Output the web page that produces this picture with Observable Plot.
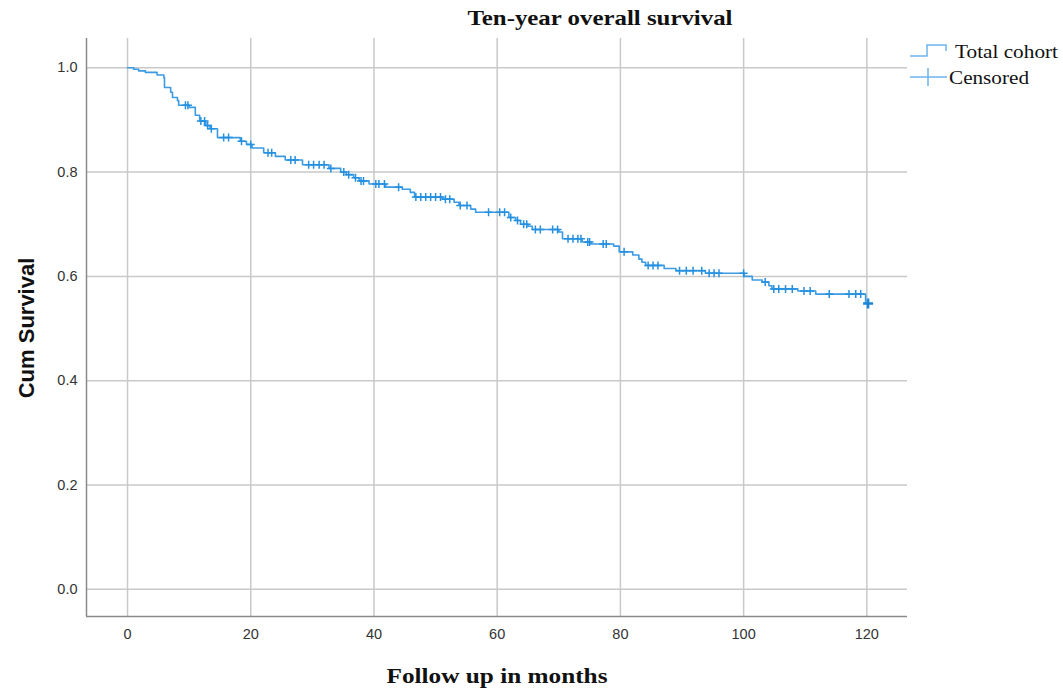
<!DOCTYPE html>
<html><head><meta charset="utf-8">
<script src="https://cdn.jsdelivr.net/npm/d3@7"></script>
<script src="https://cdn.jsdelivr.net/npm/@observablehq/plot@0.6"></script>
<style>body{margin:0;background:#fff;} #chart{width:1063px;height:694px;}</style>
</head><body><div id="chart"></div>
<script>
// Kaplan–Meier steps: event times (months) and cumulative survival after each event
const eventTimes = [0,1.0,1.8,2.9,4.8,5.9,6.0,7.0,7.3,8.1,8.3,10.0,11.0,11.7,12.7,13.4,14.6,18.3,19.3,20.2,22.1,24.0,25.6,28.4,32.7,34.6,35.5,36.7,37.6,39.2,41.9,44.6,45.9,46.6,51.1,53.0,53.8,55.7,56.5,61.9,63.0,63.8,65.0,65.7,70.0,70.6,73.8,75.2,78.9,79.8,82.0,83.0,83.5,84.1,87.1,89.0,93.8,100.1,101.4,103.0,104.1,104.6,108.8,111.7,119.8];
const eventSurv  = [1.0,0.997,0.994,0.991,0.986,0.981,0.962,0.953,0.943,0.937,0.928,0.924,0.909,0.898,0.889,0.883,0.866,0.859,0.853,0.846,0.837,0.830,0.823,0.814,0.807,0.800,0.795,0.789,0.783,0.777,0.771,0.767,0.761,0.752,0.748,0.742,0.736,0.729,0.723,0.713,0.707,0.700,0.696,0.690,0.685,0.672,0.666,0.662,0.658,0.647,0.641,0.633,0.627,0.621,0.615,0.611,0.606,0.600,0.593,0.589,0.582,0.576,0.572,0.566,0.548];
// censored observation times (months)
const censorTimes = [9.4,9.8,11.9,12.5,13.0,13.6,15.6,16.4,18.5,20.0,22.8,23.4,26.5,27.2,29.4,30.2,31.1,31.9,33.0,35.1,35.9,37.0,37.9,38.3,40.3,40.8,41.7,44.0,46.8,47.6,48.4,49.2,50.0,50.8,51.6,52.3,54.0,55.1,58.6,60.4,61.2,62.2,63.3,64.3,64.8,66.2,67.0,69.0,69.8,71.5,72.3,73.1,73.6,74.7,75.0,77.2,77.7,80.6,84.5,85.3,86.1,89.6,90.7,91.8,93.2,94.4,95.2,96.0,100.0,103.5,104.9,105.7,106.8,107.9,109.8,110.8,113.9,117.1,118.2,119.0];
const lastFollowUp = 120.2;
const xTicks = [0,20,40,60,80,100,120];
const yTicks = [0,0.2,0.4,0.6,0.8,1.0];
const xDomain = [-6.66,126.6];
const yDomain = [-0.052,1.056];

const survAt = t => { let s = 1; for (let i=0;i<eventTimes.length;i++){ if (eventTimes[i] <= t) s = eventSurv[i]; } return s; };
const steps = eventTimes.map((t,i)=>({t, s:eventSurv[i]}));
steps.push({t:lastFollowUp, s:survAt(lastFollowUp)});
const censored = censorTimes.map(t=>({t, s:survAt(t)}));
const finalCensor = [{t:lastFollowUp, s:survAt(lastFollowUp)}];

const plus = {draw(ctx, size){ const r = Math.sqrt(size/Math.PI); ctx.moveTo(0,-r); ctx.lineTo(0,r); ctx.moveTo(-r,0); ctx.lineTo(r,0); }};
const blue = "#3a9be4";

const chart = Plot.plot({
  width:1063, height:694,
  marginLeft:86, marginRight:156, marginTop:38, marginBottom:78,
  x:{domain:xDomain, label:null},
  y:{domain:yDomain, label:null},
  style:{fontFamily:"'Liberation Sans', Arial, sans-serif", fontSize:"14.5px", color:"#333", background:"#fff"},
  marks:[
    Plot.gridX(xTicks,{stroke:"#c9c9c9", strokeOpacity:1, strokeWidth:1.5}),
    Plot.gridY(yTicks,{stroke:"#c9c9c9", strokeOpacity:1, strokeWidth:1.5}),
    Plot.ruleX([xDomain[0]],{stroke:"#8a8a8a", strokeWidth:1.5}),
    Plot.ruleY([yDomain[0]],{stroke:"#8a8a8a", strokeWidth:1.5}),
    Plot.axisX(xTicks,{tickSize:0, tickPadding:12, tickFormat:d=>String(d), label:null, fill:"#333"}),
    Plot.axisY(yTicks,{tickSize:0, tickPadding:9, tickFormat:d=>d.toFixed(1), label:null, fill:"#333"}),
    Plot.line(steps,{x:"t", y:"s", curve:"step-after", stroke:blue, strokeWidth:1.6}),
    Plot.dot(censored,{x:"t", y:"s", symbol:plus, r:4, stroke:"#2590e0", strokeWidth:1.5, fill:"none"}),
    Plot.dot(finalCensor,{x:"t", y:"s", symbol:plus, r:5, stroke:"#1a86d8", strokeWidth:2.6, fill:"none"})
  ]
});
document.getElementById("chart").append(chart);

const svg = d3.select(chart);
const serif = "'Liberation Serif', 'Times New Roman', serif";
svg.append("text").attr("x",600).attr("y",25).attr("text-anchor","middle")
  .attr("font-family",serif).attr("font-weight","bold").attr("font-size",21)
  .attr("textLength",265).attr("lengthAdjust","spacingAndGlyphs").attr("fill","#111").text("Ten-year overall survival");
svg.append("text").attr("x",497).attr("y",683).attr("text-anchor","middle")
  .attr("font-family",serif).attr("font-weight","bold").attr("font-size",22)
  .attr("textLength",221).attr("lengthAdjust","spacingAndGlyphs").attr("fill","#111").text("Follow up in months");
svg.append("text").attr("transform","translate(34,328) rotate(-90)").attr("text-anchor","middle")
  .attr("font-family","'Liberation Sans', Arial, sans-serif").attr("font-weight","bold").attr("font-size",22)
  .attr("fill","#111").text("Cum Survival");
// legend
const lg = svg.append("g").attr("text-anchor","start");
lg.append("path").attr("d","M910,56H927V45H946V51").attr("fill","none").attr("stroke","#6eb4ec").attr("stroke-width",1.5);
lg.append("text").attr("x",955).attr("y",58).attr("text-anchor","start").attr("font-family",serif).attr("font-size",18)
  .attr("textLength",103).attr("lengthAdjust","spacingAndGlyphs").attr("fill","#111").text("Total cohort");
lg.append("path").attr("d","M910,77H947M928,68V86").attr("fill","none").attr("stroke","#6eb4ec").attr("stroke-width",1.5);
lg.append("text").attr("x",949).attr("y",84).attr("text-anchor","start").attr("font-family",serif).attr("font-size",18)
  .attr("textLength",80).attr("lengthAdjust","spacingAndGlyphs").attr("fill","#111").text("Censored");
</script></body></html>
